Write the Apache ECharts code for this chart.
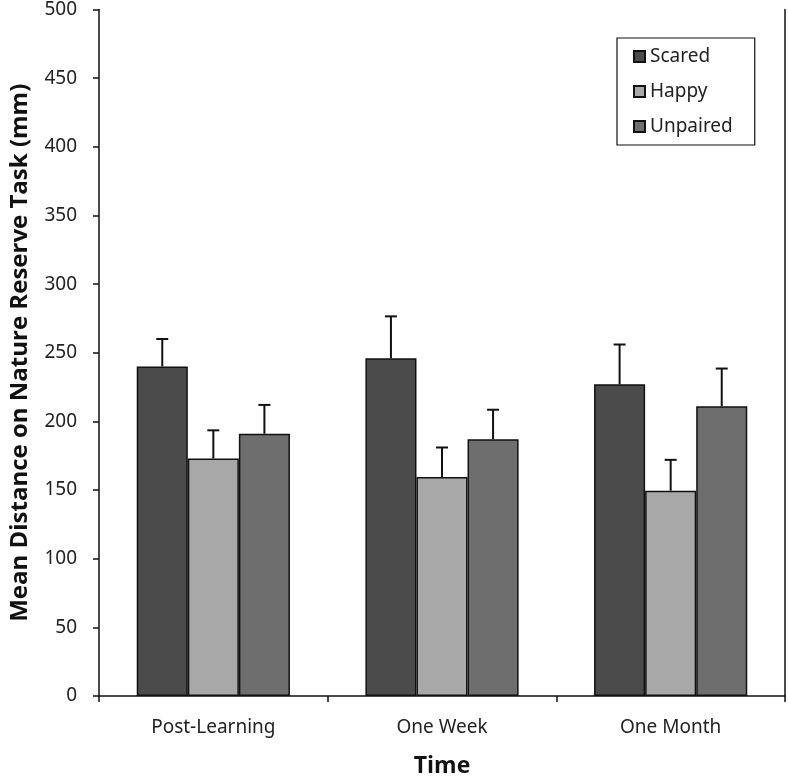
<!DOCTYPE html>
<html><head><meta charset="utf-8">
<script src="https://cdn.jsdelivr.net/npm/echarts@6/dist/echarts.min.js"></script>
<style>html,body{margin:0;padding:0;background:#fff}#c{width:788px;height:783px}</style>
</head><body><div id="c"></div>
<script>
const categories = ['Post-Learning', 'One Week', 'One Month'];
const seriesNames = ['Scared', 'Happy', 'Unpaired'];
const scared = [240, 246, 227];
const happy = [173, 159.5, 149.5];
const unpaired = [191, 187, 211];
const scaredErr = [260, 276.5, 256];
const happyErr = [193.5, 181, 172];
const unpairedErr = [212, 208.5, 238.5];
const yTicks = [0, 50, 100, 150, 200, 250, 300, 350, 400, 450, 500];

const colors = ['#4b4b4b', '#a8a8a8', '#6e6e6e'];
const values = [scared, happy, unpaired];
const errs = [scaredErr, happyErr, unpairedErr];
const catGapFrac = 0.33;
const font = 'Noto Sans';

const barSeries = seriesNames.map((n, i) => ({
  name: n, type: 'bar', data: values[i], barGap: '0%', barCategoryGap: '33%',
  itemStyle: { color: colors[i], borderColor: '#111', borderWidth: 1.5 },
  z: 2
}));
const errSeries = seriesNames.map((n, i) => ({
  name: n + ' err', type: 'custom',
  data: categories.map((c, k) => [k, values[i][k], errs[i][k]]),
  z: 5,
  renderItem: function (params, api) {
    const k = api.value(0);
    const band = api.size([1, 0])[0];
    const bw = band * (1 - catGapFrac) / 3;
    const base = api.coord([k, api.value(1)]);
    const top = api.coord([k, api.value(2)]);
    const x = base[0] + (i - 1) * bw;
    const cap = 6;
    return { type: 'group', children: [
      { type: 'line', shape: { x1: x, y1: base[1], x2: x, y2: top[1] }, style: { stroke: '#111', lineWidth: 2 } },
      { type: 'line', shape: { x1: x - cap, y1: top[1], x2: x + cap, y2: top[1] }, style: { stroke: '#111', lineWidth: 2 } }
    ]};
  }
}));

const chart = echarts.init(document.getElementById('c'), null, { renderer: 'canvas' });
chart.setOption({
  animation: false,
  backgroundColor: '#fff',
  grid: { left: 93, right: 3, top: 7, bottom: 80 },
  legend: {
    data: seriesNames, orient: 'vertical', left: 617, top: 38,
    icon: 'rect', itemWidth: 11, itemHeight: 11, itemGap: 16,
    padding: [9, 22, 9, 16],
    borderColor: '#111', borderWidth: 1.2,
    textStyle: { fontFamily: font, fontSize: 19, color: '#222' }
  },
  xAxis: {
    type: 'category', data: categories,
    name: 'Time', nameLocation: 'middle', nameGap: 59,
    nameTextStyle: { fontFamily: 'Open Sans', fontWeight: 'bold', fontSize: 23, color: '#111' },
    axisLine: { lineStyle: { color: '#111', width: 1.5 } },
    axisTick: { show: true, length: 6, lineStyle: { color: '#111', width: 1.5 } },
    axisLabel: { fontFamily: font, fontSize: 19, color: '#222', margin: 22 },
    splitLine: { show: false }
  },
  yAxis: [{
    type: 'value', min: yTicks[0], max: yTicks[yTicks.length - 1], interval: yTicks[1] - yTicks[0],
    name: 'Mean Distance on Nature Reserve Task (mm)', nameLocation: 'middle', nameGap: 67,
    nameTextStyle: { fontFamily: 'Open Sans', fontWeight: 'bold', fontSize: 24, color: '#111' },
    axisLine: { show: true, lineStyle: { color: '#111', width: 1.5 } },
    axisTick: { show: true, length: 6, lineStyle: { color: '#111', width: 1.5 } },
    axisLabel: { fontFamily: font, fontSize: 19, color: '#222', margin: 22 },
    splitLine: { show: false }
  }, {
    type: 'value', position: 'right', min: yTicks[0], max: yTicks[yTicks.length - 1],
    axisLine: { show: true, lineStyle: { color: '#111', width: 1.5 } },
    axisTick: { show: false }, axisLabel: { show: false }, splitLine: { show: false }
  }],
  series: [...barSeries, ...errSeries]
});
</script></body></html>
